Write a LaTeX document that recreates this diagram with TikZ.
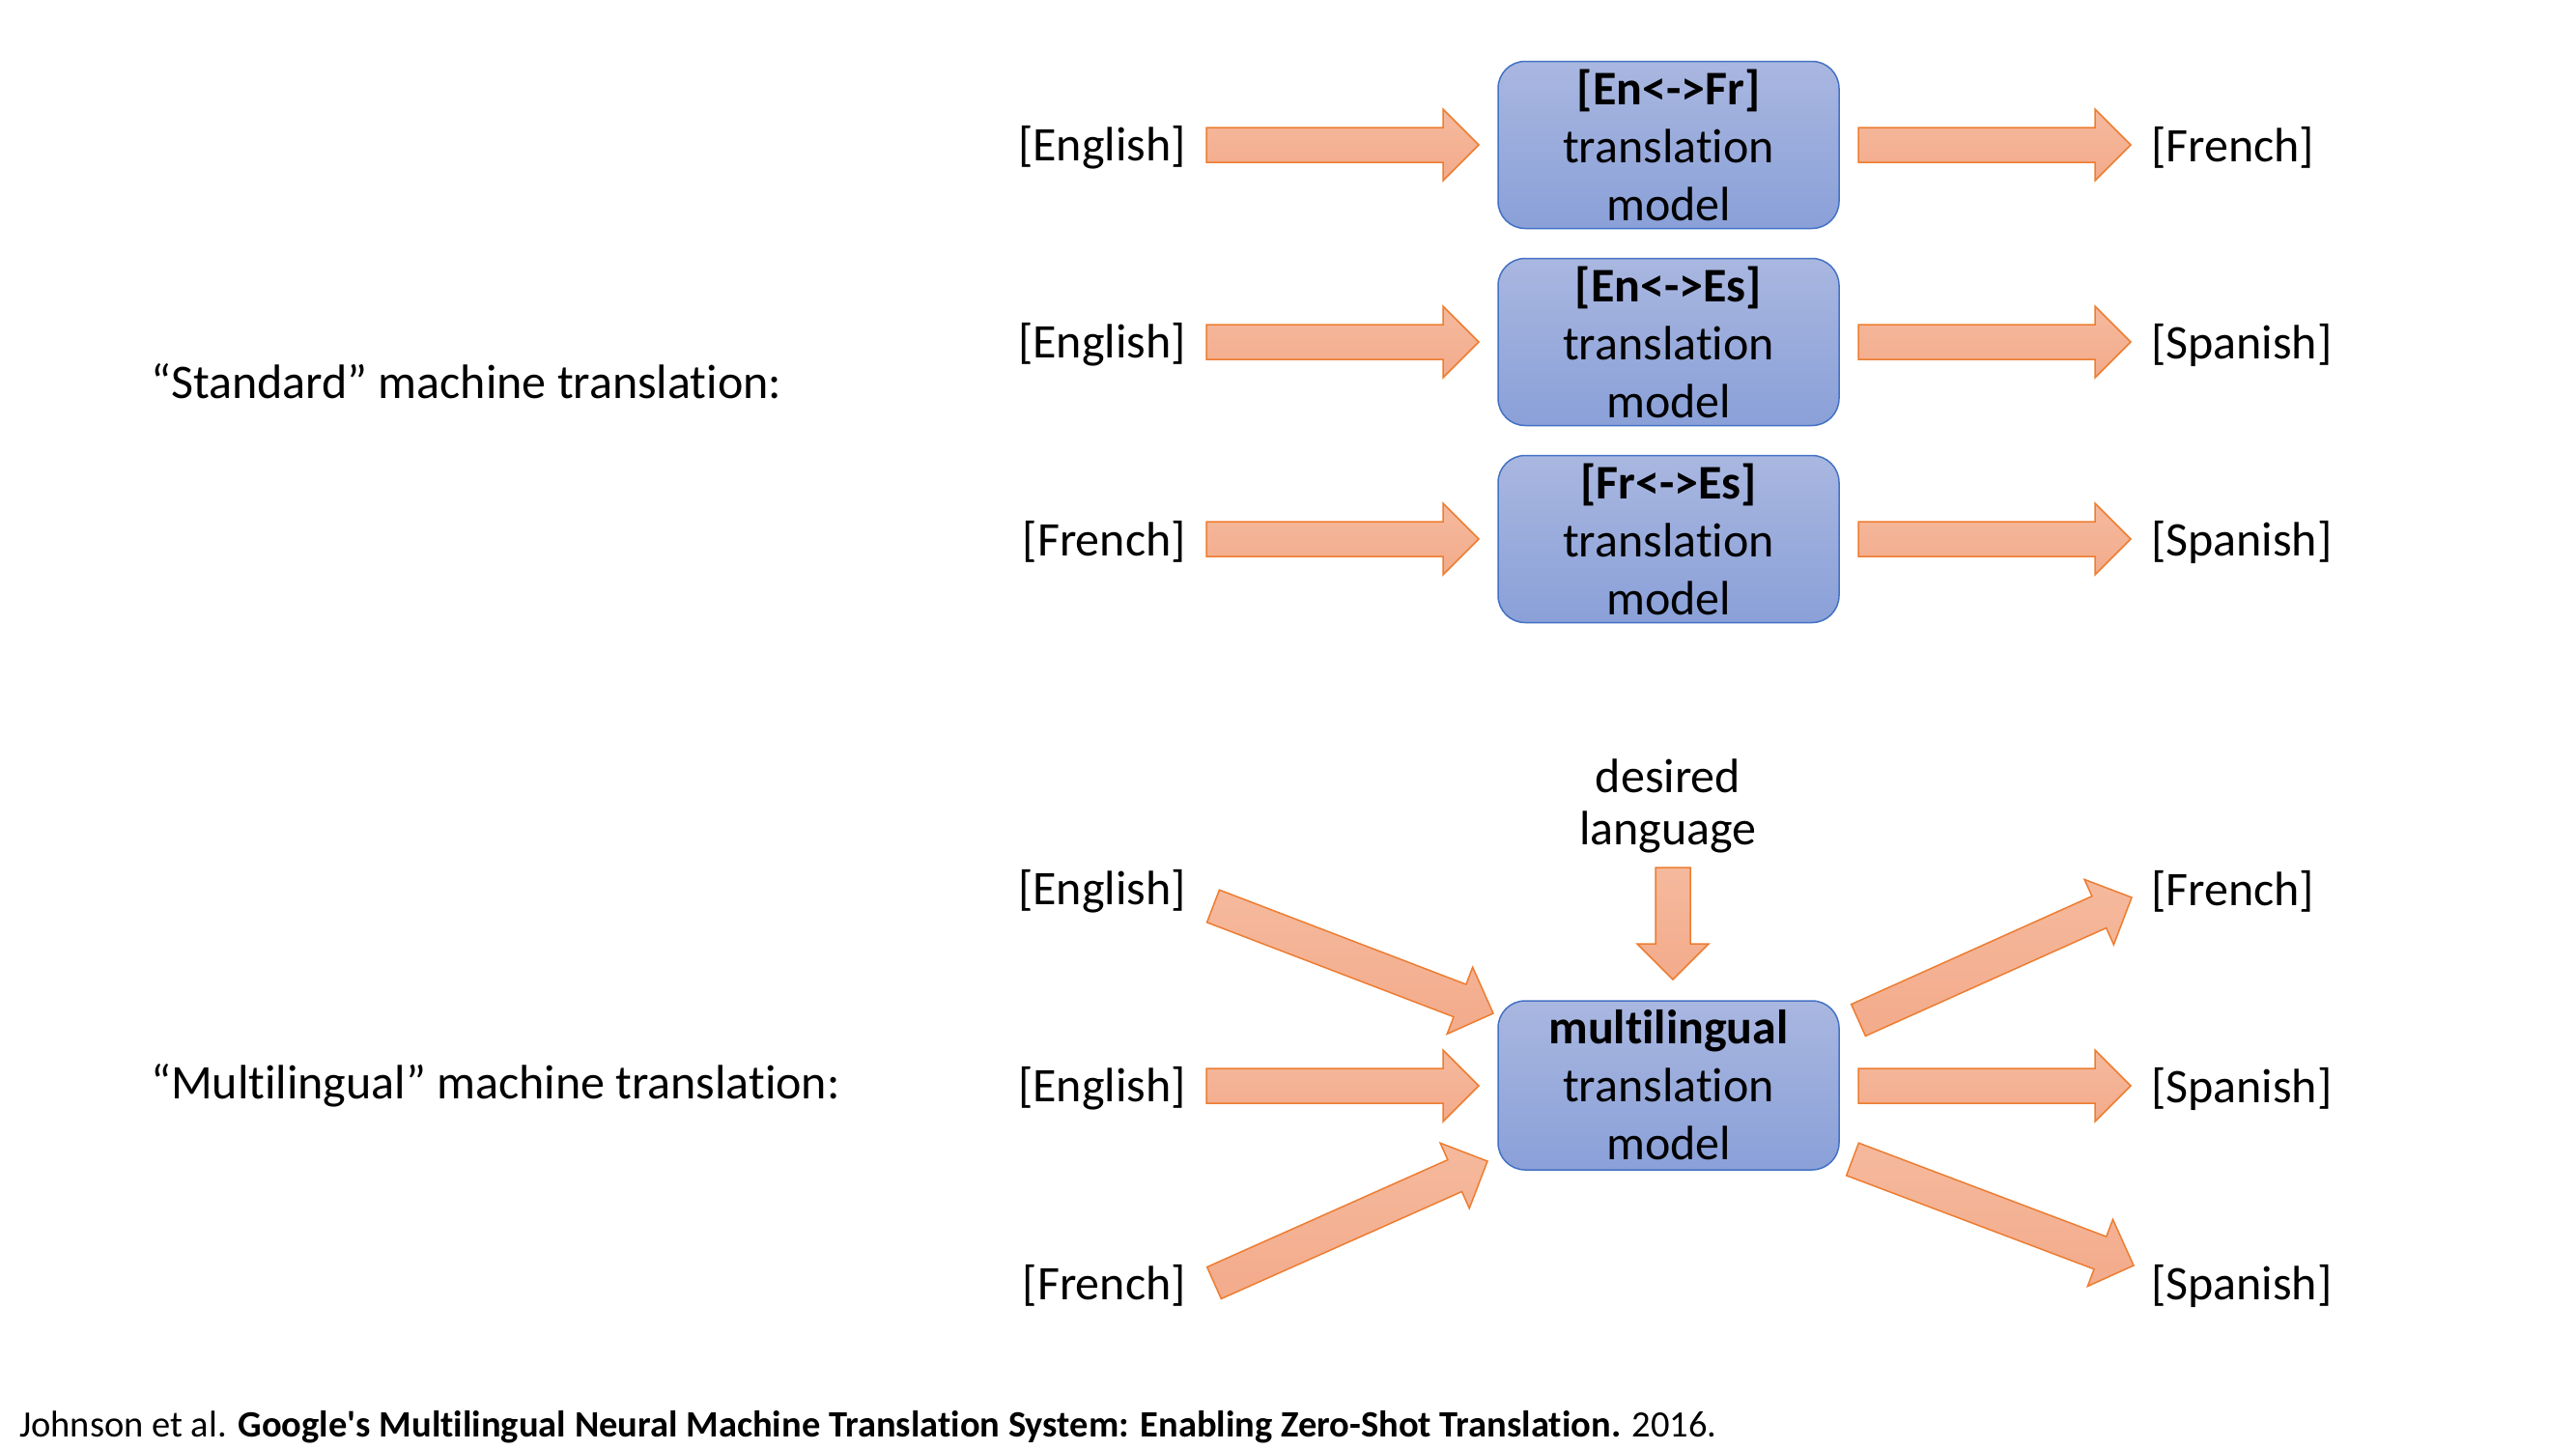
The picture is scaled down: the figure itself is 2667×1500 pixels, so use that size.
\documentclass[tikz,border=0pt]{standalone}
\usepackage{fontspec}
\newfontfamily\cfont{Carlito}[Ligatures=NoCommon]
\usetikzlibrary{calc}
\definecolor{boxtop}{HTML}{A9B7E0}
\definecolor{boxbot}{HTML}{8AA0D8}
\definecolor{boxline}{HTML}{4472C4}
\definecolor{arrtop}{HTML}{F5B99D}
\definecolor{arrbot}{HTML}{F3AB8B}
\definecolor{arrline}{HTML}{ED7D31}
\newcommand\blockarr[2]{%
  \coordinate (neck-#1) at ($(#2)!37pt!(#1)$);
  \draw[barrow] ($(#1)!18pt!90:(#2)$) -- ($(neck-#1)!18pt!90:(#2)$) -- ($(neck-#1)!37pt!90:(#2)$) -- (#2)
     -- ($(neck-#1)!37pt!-90:(#2)$) -- ($(neck-#1)!18pt!-90:(#2)$) -- ($(#1)!18pt!-90:(#2)$) -- cycle;
}
\begin{document}
\begin{tikzpicture}[x=1pt,y=-1pt,
  model/.style={draw=boxline, line width=1.5pt, rounded corners=28pt, minimum width=353pt, minimum height=173pt,
     top color=boxtop, bottom color=boxbot, align=center, inner sep=0pt,
     font=\cfont\fontsize{50}{60}\selectfont},
  barrow/.style={draw=arrline, line width=1.5pt, top color=arrtop, bottom color=arrbot, line join=miter},
  lang/.style={font=\cfont\fontsize{50}{60}\selectfont, inner sep=0pt},
  title/.style={font=\cfont\fontsize{50}{60}\selectfont, anchor=west, inner sep=0pt},
]
\useasboundingbox[fill=white] (0,0) rectangle (2667,1500);

% --- standard ---
\node[title] (t1) at (156,395) {“Standard” machine translation:};
\node[model] (m1) at (1727.5,150) {\textbf{[En<->Fr]}\\translation\\model};
\node[model] (m2) at (1727.5,354) {\textbf{[En<->Es]}\\translation\\model};
\node[model] (m3) at (1727.5,558) {\textbf{[Fr<->Es]}\\translation\\model};

\node[lang, anchor=east] (l1) at (1228,153) {[English]};
\node[lang, anchor=east] (l2) at (1228,357) {[English]};
\node[lang, anchor=east] (l3) at (1228,561) {[French]};
\node[lang, anchor=west] (r1) at (2227,153) {[French]};
\node[lang, anchor=west] (r2) at (2227,357) {[Spanish]};
\node[lang, anchor=west] (r3) at (2227,561) {[Spanish]};

\coordinate (a1s) at (1249,150); \coordinate (a1e) at (1531,150);
\coordinate (a2s) at (1249,354); \coordinate (a2e) at (1531,354);
\coordinate (a3s) at (1249,558); \coordinate (a3e) at (1531,558);
\coordinate (b1s) at (1924,150); \coordinate (b1e) at (2206,150);
\coordinate (b2s) at (1924,354); \coordinate (b2e) at (2206,354);
\coordinate (b3s) at (1924,558); \coordinate (b3e) at (2206,558);
\blockarr{a1s}{a1e}\blockarr{a2s}{a2e}\blockarr{a3s}{a3e}
\blockarr{b1s}{b1e}\blockarr{b2s}{b2e}\blockarr{b3s}{b3e}

% --- multilingual ---
\node[title] (t2) at (156,1124) {“Multilingual” machine translation:};
\node[model, minimum height=175pt] (mm) at (1727.5,1123.5) {\textbf{multilingual}\\translation\\model};
\node[lang, align=center, font=\cfont\fontsize{50}{54}\selectfont] (dl) at (1727,834) {desired\\language};

\node[lang, anchor=east] (ml1) at (1228,923) {[English]};
\node[lang, anchor=east] (ml2) at (1228,1127) {[English]};
\node[lang, anchor=east] (ml3) at (1228,1331) {[French]};
\node[lang, anchor=west] (mr1) at (2227,923) {[French]};
\node[lang, anchor=west] (mr2) at (2227,1127) {[Spanish]};
\node[lang, anchor=west] (mr3) at (2227,1331) {[Spanish]};

\coordinate (ds) at (1732,898); \coordinate (de) at (1732,1014);
\coordinate (c1s) at (1256,938); \coordinate (c1e) at (1546,1049);
\coordinate (c2s) at (1249,1124); \coordinate (c2e) at (1531,1124);
\coordinate (c3s) at (1257,1328); \coordinate (c3e) at (1540,1202);
\coordinate (d1s) at (1924,1056); \coordinate (d1e) at (2207,929);
\coordinate (d2s) at (1924,1124); \coordinate (d2e) at (2206,1124);
\coordinate (d3s) at (1918,1200); \coordinate (d3e) at (2209,1310);
\blockarr{ds}{de}
\blockarr{c1s}{c1e}\blockarr{c2s}{c2e}\blockarr{c3s}{c3e}
\blockarr{d1s}{d1e}\blockarr{d2s}{d2e}\blockarr{d3s}{d3e}

% --- footer ---
\node[anchor=west, inner sep=0pt, font=\cfont\fontsize{38.5}{44}\selectfont] (ft) at (20,1477)
  {Johnson et al. \textbf{Google's Multilingual Neural Machine Translation System: Enabling Zero-Shot Translation.} 2016.};
\end{tikzpicture}
\end{document}
